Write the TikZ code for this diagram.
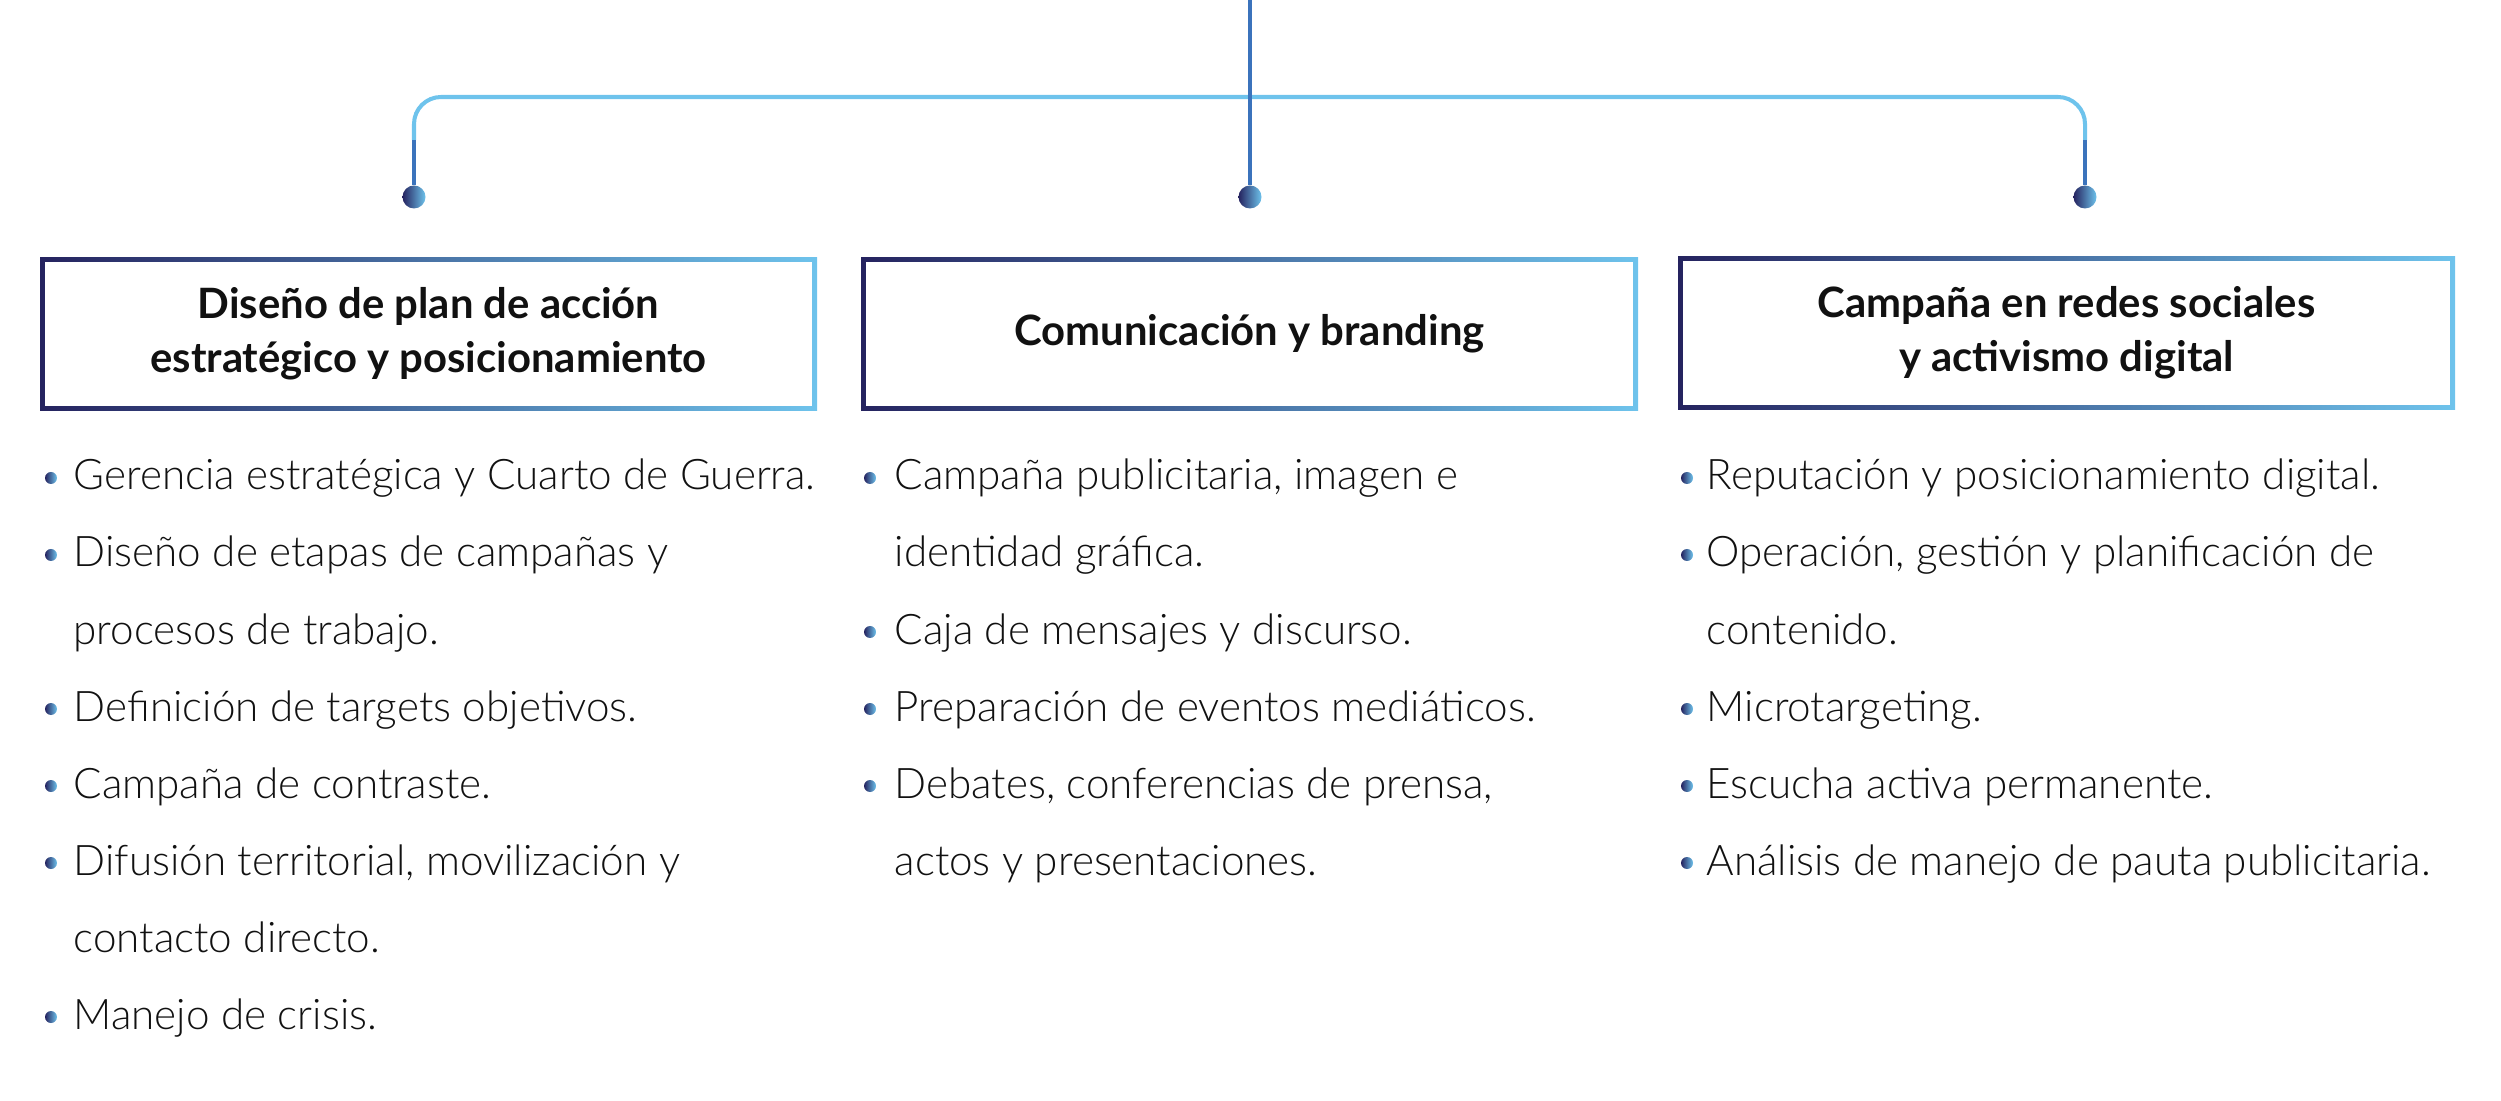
\documentclass[tikz,border=0pt]{standalone}
\usepackage{fontspec}
\setmainfont{Lato}[UprightFont={* Light}, BoldFont={* Bold}]
\usetikzlibrary{positioning}

\definecolor{navy}{HTML}{25235F}
\definecolor{sky}{HTML}{6EC3EC}
\definecolor{midblue}{HTML}{3B73BC}
\definecolor{ink}{HTML}{111111}

\tikzset{
	heading/.style={minimum width=7.77cm, minimum height=1.53cm, inner sep=0pt, align=center,
		text=ink, font=\bfseries\fontsize{11.9}{15.4}\selectfont,
		path picture={
			\shade[left color=navy, right color=sky] (path picture bounding box.south west) rectangle (path picture bounding box.north east);
			\fill[white] ([shift={(1.3pt,1.3pt)}]path picture bounding box.south west) rectangle ([shift={(-1.3pt,-1.3pt)}]path picture bounding box.north east);
		}},
	knob/.style={circle, inner sep=0pt, minimum size=0.23cm, left color=navy, right color=sky},
	pip/.style={circle, inner sep=0pt, minimum size=0.12cm, left color=navy, right color=sky},
	item/.style={anchor=base west, inner sep=0pt, text=ink, font=\fontsize{12}{14}\selectfont},
	wire/.style={line width=1pt, midblue},
	bracket/.style={line width=1.15pt, sky, rounded corners=0.27cm}
}

\begin{document}
\begin{tikzpicture}
	\useasboundingbox (0,0) rectangle (25.01,-11.01);

	% ramas
	\coordinate (top) at (12.50,0);
	\coordinate (bar) at (12.50,-0.97);
	\coordinate (jl) at (4.14,-1.40);
	\coordinate (jr) at (20.85,-1.40);
	\node[knob] (kl) at (4.14,-1.97) {};
	\node[knob] (km) at (12.50,-1.97) {};
	\node[knob] (kr) at (20.85,-1.97) {};

	\draw[bracket] (jl) |- (bar) -| (jr);
	\draw[wire] (kl) -- (jl);
	\draw[wire] (kr) -- (jr);
	\draw[wire] (top) -- (km);

	% cajas
	\node[heading] (plan) at (4.285,-3.34) {Diseño de plan de acción\\estratégico y posicionamiento};
	\node[heading] (comu) at (12.495,-3.34) {Comunicación y branding};
	\node[heading] (redes) at (20.665,-3.33) {Campaña en redes sociales\\y activismo digital};

	% columna 1
	\foreach \r/\t in {0/Gerencia estratégica y Cuarto de Guerra., 1/Diseño de etapas de campañas y,
		2/procesos de trabajo., 3/Definición de targets objetivos., 4/Campaña de contraste.,
		5/{Difusión territorial, movilización y}, 6/contacto directo., 7/Manejo de crisis.} {
		\node[item] (uno\r) at (0.73,{-4.90-0.77*\r}) {\t};
	}
	\foreach \r in {0,1,3,4,5,7} {
		\node[pip] (puno\r) at (0.51,{-4.78-0.77*\r}) {};
	}

	% columna 2
	\foreach \r/\t in {0/{Campaña publicitaria, imagen e}, 1/identidad gráfica.,
		2/Caja de mensajes y discurso., 3/Preparación de eventos mediáticos.,
		4/{Debates, conferencias de prensa,}, 5/actos y presentaciones.} {
		\node[item] (dos\r) at (8.94,{-4.90-0.77*\r}) {\t};
	}
	\foreach \r in {0,2,3,4} {
		\node[pip] (pdos\r) at (8.70,{-4.78-0.77*\r}) {};
	}

	% columna 3
	\foreach \r/\t in {0/Reputación y posicionamiento digital., 1/{Operación, gestión y planificación de},
		2/contenido., 3/Microtargeting., 4/Escucha activa permanente.,
		5/Análisis de manejo de pauta publicitaria.} {
		\node[item] (tres\r) at (17.06,{-4.90-0.77*\r}) {\t};
	}
	\foreach \r in {0,1,3,4,5} {
		\node[pip] (ptres\r) at (16.87,{-4.78-0.77*\r}) {};
	}
\end{tikzpicture}
\end{document}
